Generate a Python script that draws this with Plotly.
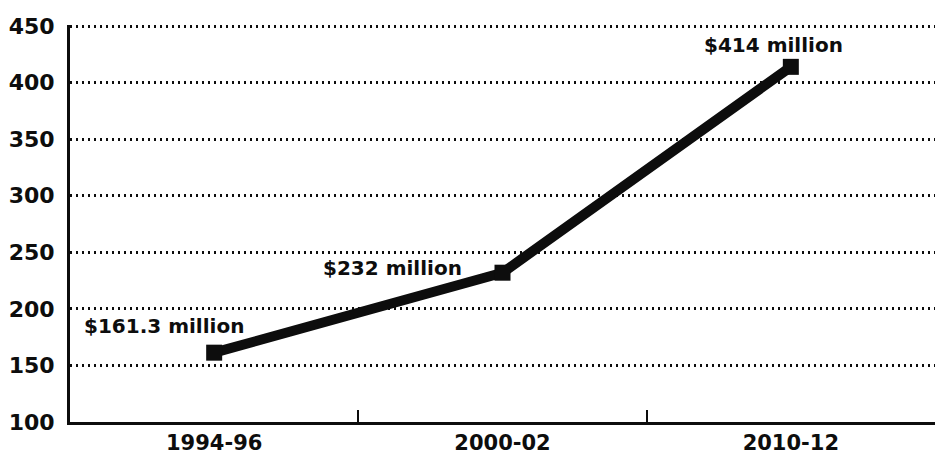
import plotly.graph_objects as go

# Funding totals by period (millions of dollars)
periods = ["1994-96", "2000-02", "2010-12"]
amounts = [161.3, 232, 414]
label_texts = ["$161.3 million", "$232 million", "$414 million"]
y_ticks = [100, 150, 200, 250, 300, 350, 400, 450]

# Label offsets (pixels) relative to each point
label_xshift = [-50, -110, -17]
label_yshift = [27, 5, 22]

FONT = "DejaVu Sans"

fig = go.Figure()
fig.add_trace(go.Scatter(
    x=periods, y=amounts, mode="lines+markers",
    line=dict(color="#0d0d0d", width=10),
    marker=dict(symbol="square", size=16, color="#0d0d0d"),
    hoverinfo="skip", showlegend=False,
))

for p, v, t, dx, dy in zip(periods, amounts, label_texts, label_xshift, label_yshift):
    fig.add_annotation(
        x=p, y=v, text=f"<b>{t}</b>", showarrow=False,
        xshift=dx, yshift=dy,
        font=dict(family=FONT, size=20, color="#0d0d0d"),
    )

fig.update_layout(
    width=935, height=460,
    margin=dict(l=70, r=0, t=25, b=38),
    paper_bgcolor="white", plot_bgcolor="white",
    font=dict(family=FONT, color="#0d0d0d"),
)
fig.update_xaxes(
    type="category", range=[-0.5, 2.5],
    tickmode="array", tickvals=periods,
    ticktext=[f"<b>{p}</b>" for p in periods],
    tickson="boundaries", ticks="inside", ticklen=12, tickwidth=2, tickcolor="#0d0d0d",
    showline=True, linecolor="#0d0d0d", linewidth=3,
    showgrid=False, zeroline=False,
    tickfont=dict(family=FONT, size=21, color="#0d0d0d"),
)
fig.update_yaxes(
    range=[100, 451], tickmode="array", tickvals=y_ticks,
    ticktext=[f"<b>{v}</b>" for v in y_ticks],
    showline=True, linecolor="#0d0d0d", linewidth=3,
    showgrid=True, gridcolor="#0d0d0d", gridwidth=2.5, griddash="2px,4px",
    zeroline=False, ticks="", ticklabelstandoff=8,
    tickfont=dict(family=FONT, size=22, color="#0d0d0d"),
)

fig.write_html("out.html")
